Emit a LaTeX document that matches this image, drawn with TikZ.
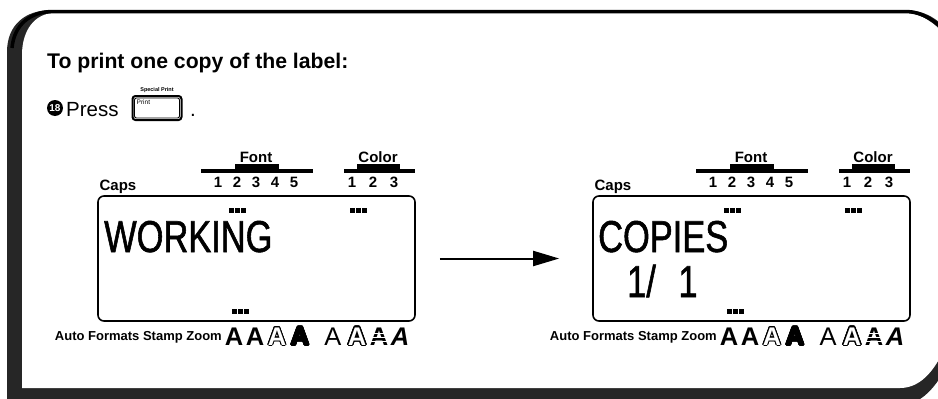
\documentclass[tikz,border=0pt]{standalone}
\usepackage{fontspec}
\setmainfont{Liberation Sans}
\newfontfamily\lcdfont[FakeStretch=0.77,FakeBold=1.2]{Liberation Sans}
\usepackage[copies]{contour}
\usetikzlibrary{calc,positioning,arrows.meta}

\tikzset{
  frameband/.style={fill=black!85},
  heading/.style={font=\bfseries\fontsize{21.2}{23}\selectfont,anchor=base west,inner sep=0pt},
  stepword/.style={font=\fontsize{20.5}{22}\selectfont,anchor=base west,inner sep=0pt},
  panellabel/.style={font=\bfseries\fontsize{15}{16}\selectfont,inner sep=0pt,anchor=base},
  lcdbox/.style={draw,line width=1.6pt,rounded corners=6pt,minimum width=317pt,minimum height=125pt,inner sep=0pt},
  lcdtext/.style={font=\lcdfont\fontsize{44.7}{46}\selectfont,inner sep=0pt,anchor=base west},
  modetext/.style={font=\bfseries\fontsize{13}{14}\selectfont,inner sep=0pt,anchor=base east},
  glyph/.style={font=\bfseries\fontsize{25.5}{26}\selectfont,inner sep=0pt,anchor=base},
  lcddots/.pic={\foreach \k in {0,1,2} \fill (\k*6-8,-2.5) rectangle ++(4.5,5);}
}

\begin{document}
\begin{tikzpicture}[x=1pt,y=-1pt]
  \useasboundingbox (0,0) rectangle (938,399);
  % page frame
  \fill[frameband] (7,405) -- (7,52) .. controls (7,25) and (25,10) .. (52,10) -- (905,10)
    .. controls (925,10) and (940,20) .. (950,34) -- (950,360)
    .. controls (940,380) and (925,405) .. (900,405) -- cycle;
  \fill[white] (22,388) -- (22,55) .. controls (22,30) and (35,13) .. (55,13) -- (905,13)
    .. controls (922,13) and (936,24) .. (950,40) -- (950,335)
    .. controls (938,368) and (922,388) .. (900,388) -- cycle;
  \draw[line width=3.5pt] (12,48) .. controls (14,25) and (30,11.5) .. (53,11.5) -- (905,11.5)
    .. controls (923,11.5) and (938,22) .. (950,37);

  \node[heading] (title) at (47,68) {To print one copy of the label:};
  \node[circle,fill=black,text=white,inner sep=0pt,minimum size=16pt,
    font=\bfseries\fontsize{10}{10}\selectfont] (num) at (55,108) {18};
  \node[stepword] (press) at (66,116) {Press};
  \node[draw,line width=2pt,rounded corners=3pt,minimum width=49pt,minimum height=24pt,
    inner sep=0pt] (key) at (157,108) {};
  \draw[line width=0.9pt,rounded corners=2pt] ([shift={(3pt,-3pt)}]key.north west)
    rectangle ([shift={(-3pt,3pt)}]key.south east);
  \node[anchor=north west,inner sep=0pt,font=\fontsize{6.5}{7}\selectfont] (keytext)
    at ([shift={(5pt,-5pt)}]key.north west) {Print};
  \node[above=2pt of key,inner sep=0pt,font=\bfseries\fontsize{5.5}{6}\selectfont] (keycap) {Special Print};
  \node[stepword] (stop) at (190,116) {.};

  \foreach \p/\dx in {L/0,R/495}{
    \begin{scope}[xshift=\dx]
      \node[lcdbox] (\p-lcd) at (256.5,258.5) {};
      \node[panellabel] (\p-caps) at (118,190) {Caps};
      \node[panellabel] (\p-font) at (256,162.5) {Font};
      \fill (201,169) rectangle (313,172.5);
      \fill (235,163.5) rectangle (279,172.5);
      \foreach \d [count=\i from 0] in {1,...,5}
        \node[panellabel] (\p-fd\d) at (218+19*\i,187) {\d};
      \node[panellabel] (\p-color) at (378,162.5) {Color};
      \fill (344,169) rectangle (415,172.5);
      \fill (357,163.5) rectangle (400,172.5);
      \foreach \d [count=\i from 0] in {1,2,3}
        \node[panellabel] (\p-cd\d) at (352+21*\i,187) {\d};
      \pic at (237,210) {lcddots};
      \pic at (358,210) {lcddots};
      \pic at (240,311) {lcddots};
      \node[modetext] (\p-modes) at (222,340) {Auto Formats Stamp Zoom};
      \node[glyph] (\p-g1) at (234,345) {A};
      \node[glyph] (\p-g2) at (255,345) {A};
      \node[glyph] (\p-g3) at (277,345) {\contourlength{1pt}\textcolor{white}{\contour{black}{A}}};
      \node[glyph] (\p-g4) at (300,345) {\contourlength{1.2pt}\contour{black}{A}};
      \node[glyph,font=\fontsize{25.5}{26}\selectfont] (\p-g5) at (333,345) {A};
      \node[glyph] (\p-g6) at (357,345) {\contourlength{1.4pt}\textcolor{white}{\contour{black}{A}}};
      \node[glyph] (\p-g7) at (379,345) {A};
      \foreach \s in {4,8,12}
        \draw[white,line width=0.9pt] ([yshift=\s pt]\p-g7.base west) -- ([yshift=\s pt]\p-g7.base east);
      \node[glyph,font=\bfseries\itshape\fontsize{25.5}{26}\selectfont] (\p-g8) at (400,345) {A};
    \end{scope}
  }

  \node[lcdtext] (working) at (104,252) {WORKING};
  \node[lcdtext] (copies) at (598,252) {COPIES};
  \node[lcdtext] (count) at (627,297) {1/\hspace{13pt} 1};

  \draw[line width=2pt,-{Triangle[length=26pt,width=15pt]}] ([xshift=24pt]L-lcd.east) -- ([xshift=-33pt]R-lcd.west);
\end{tikzpicture}
\end{document}
